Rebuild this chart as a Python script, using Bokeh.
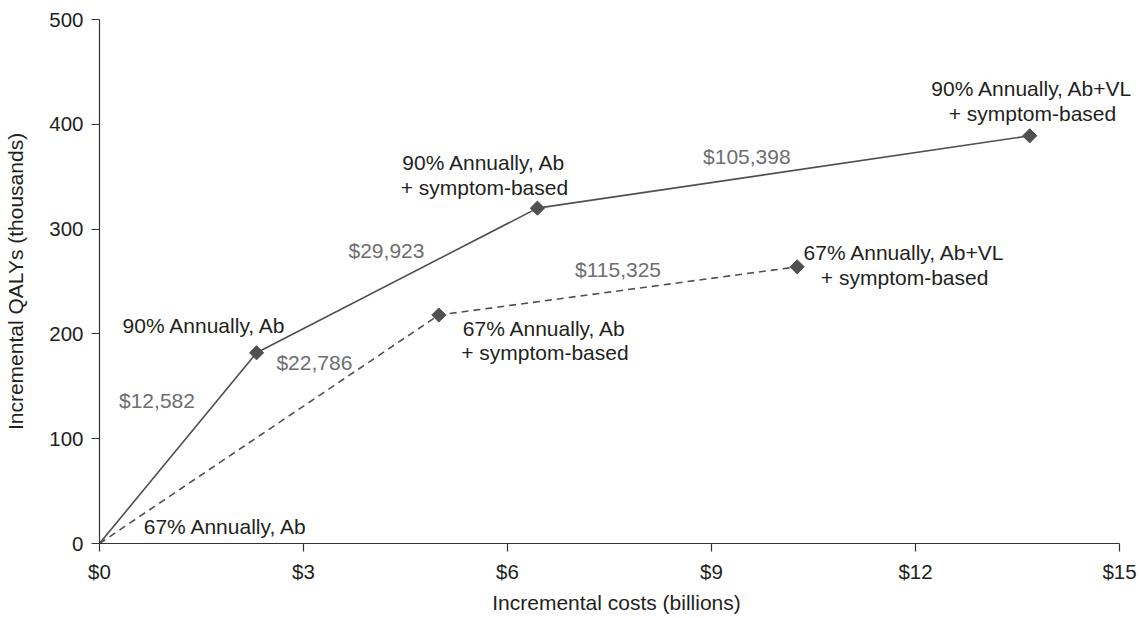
import numpy as np
from bokeh.plotting import figure
from bokeh.models import Range1d, FixedTicker, NumeralTickFormatter
from bokeh.core.properties import value
from bokeh.embed import file_html
from bokeh.resources import INLINE

# ---- data (costs in $ billions, QALYs in thousands) ----
costs_90 = [0, 2.31, 6.44, 13.68]
qalys_90 = [0, 182, 320, 389]
costs_67 = [0, 4.99, 10.26]
qalys_67 = [0, 218, 264]

x_ticks = [0, 3, 6, 9, 12, 15]
y_ticks = [0, 100, 200, 300, 400, 500]

strategy_text = ["90% Annually, Ab", "67% Annually, Ab",
                 "90% Annually, Ab", "+ symptom-based",
                 "67% Annually, Ab", "+ symptom-based",
                 "90% Annually, Ab+VL", "+ symptom-based",
                 "67% Annually, Ab+VL", "+ symptom-based"]
strategy_x = [0.34, 0.65, 5.66, 5.66, 6.55, 6.55, 13.72, 13.72, 11.84, 11.84]
strategy_y = [208, 16, 363.5, 339.7, 205, 182.6, 434, 410, 277.7, 253.8]
strategy_align = ["left", "left", "center", "center", "center", "center",
                  "center", "center", "center", "center"]

icer_text = ["$12,582", "$22,786", "$29,923", "$105,398", "$115,325"]
icer_x = [0.845, 3.16, 4.22, 9.52, 7.625]
icer_y = [136, 173, 280, 369, 261]

FONT = "Liberation Sans"
BLACK = "#231f20"
GRAY = "#6d6e71"
LINE = "#505050"

# frame extends a little past $15 so right-hand labels are not clipped;
# the axis itself stops at 15 via bounds
p = figure(width=1141, height=618,
           x_range=Range1d(0, 15.206), y_range=Range1d(0, 500),
           output_backend="svg", toolbar_location=None,
           min_border_left=99, min_border_right=8,
           min_border_top=19, min_border_bottom=75)
p.outline_line_color = None
p.grid.visible = False
p.background_fill_color = "white"
p.border_fill_color = "white"

for ax in (p.xaxis, p.yaxis):
    ax.axis_line_color = "#333333"
    ax.axis_line_width = 1.2
    ax.major_tick_line_color = "#333333"
    ax.major_tick_line_width = 1.2
    ax.major_tick_out = 8
    ax.major_tick_in = 0
    ax.minor_tick_line_color = None
    ax.major_label_text_font = FONT
    ax.major_label_text_font_size = "20.5px"
    ax.major_label_text_color = BLACK
    ax.axis_label_text_font = FONT
    ax.axis_label_text_font_size = "21px"
    ax.axis_label_text_font_style = "normal"
    ax.axis_label_text_color = BLACK
    ax.major_label_standoff = 8

p.xaxis.bounds = (0, 15)
p.xaxis.ticker = FixedTicker(ticks=x_ticks)
p.yaxis.ticker = FixedTicker(ticks=y_ticks)
p.xaxis.formatter = NumeralTickFormatter(format="$0")
p.xaxis.axis_label = "Incremental costs (billions)"
p.yaxis.axis_label = "Incremental QALYs (thousands)"
p.xaxis.axis_label_standoff = 5
p.yaxis.axis_label_standoff = 19

p.line(costs_90, qalys_90, line_color=LINE, line_width=1.6)
p.line(costs_67, qalys_67, line_color=LINE, line_width=1.6, line_dash="7 5")
p.scatter(costs_90[1:], qalys_90[1:], marker="square", angle=np.pi / 4,
          size=10, fill_color=LINE, line_color=LINE)
p.scatter(costs_67[1:], qalys_67[1:], marker="square", angle=np.pi / 4,
          size=10, fill_color=LINE, line_color=LINE)

for t, x, y, a in zip(strategy_text, strategy_x, strategy_y, strategy_align):
    p.text([x], [y], text=[t], text_align=a, text_baseline="middle",
           text_font=value(FONT), text_font_size="21px", text_color=BLACK)

p.text(icer_x, icer_y, text=icer_text, text_align="center", text_baseline="middle",
       text_font=value(FONT), text_font_size="21px", text_color=GRAY)

open("out.html", "w").write(file_html(p, INLINE))
